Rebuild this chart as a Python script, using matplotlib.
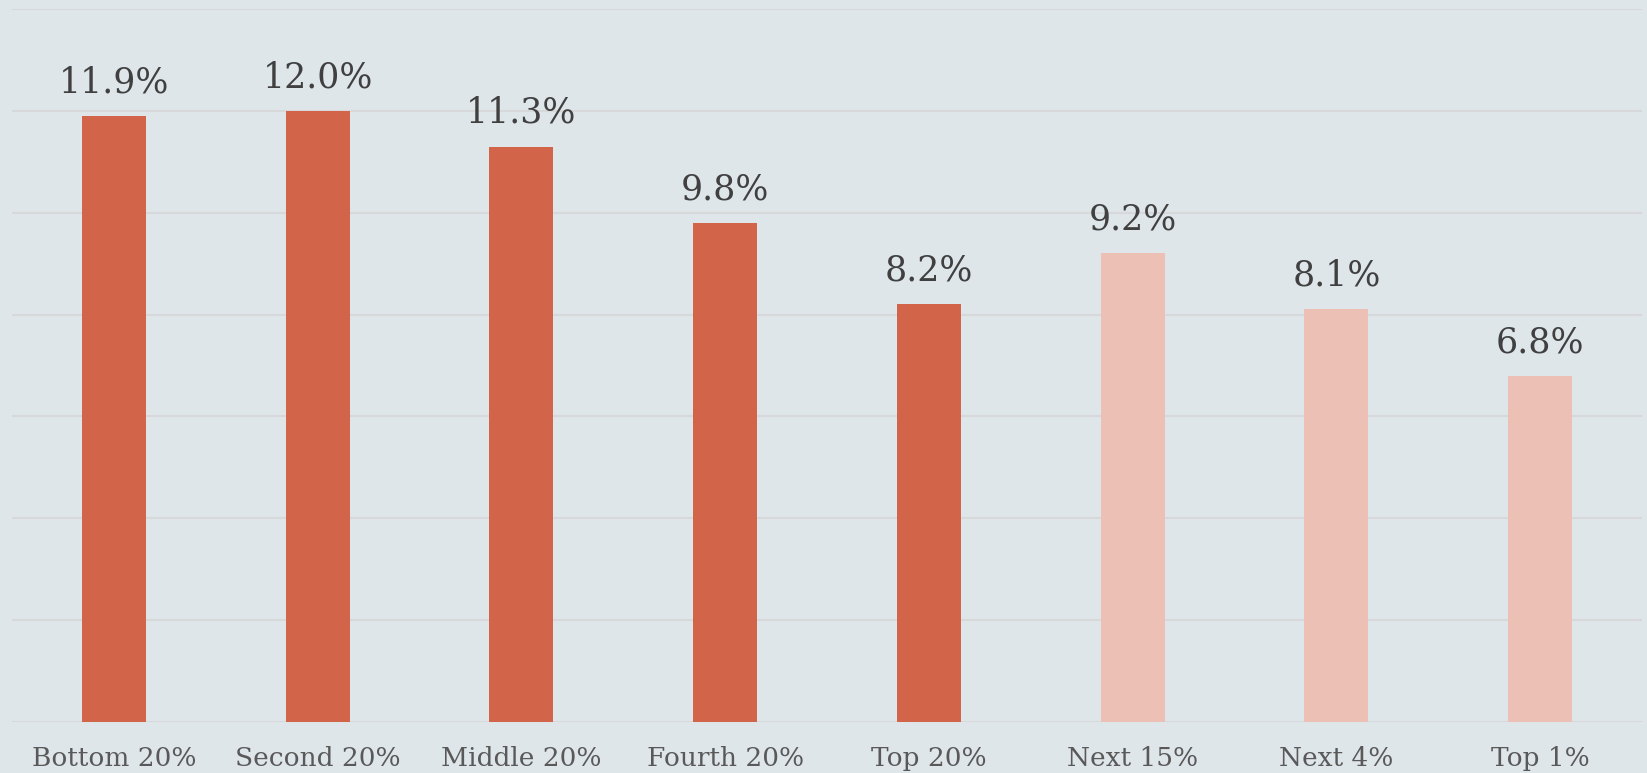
import matplotlib
matplotlib.use("Agg")
import matplotlib.pyplot as plt

categories = ["Bottom 20%", "Second 20%", "Middle 20%", "Fourth 20%", "Top 20%",
              "Next 15%", "Next 4%", "Top 1%"]
values = [11.9, 12.0, 11.3, 9.8, 8.2, 9.2, 8.1, 6.8]
labels = ["11.9%", "12.0%", "11.3%", "9.8%", "8.2%", "9.2%", "8.1%", "6.8%"]
colors = ["#D2644A"] * 5 + ["#EDC0B5"] * 3

bg = "#DFE6EA"
plt.rcParams['font.family'] = ['DejaVu Serif']

fig = plt.figure(figsize=(16.47, 7.73), dpi=100, facecolor=bg)
ax = fig.add_axes([12/1647, 1-722/773, (1642-12)/1647, (722-9)/773])
ax.set_facecolor(bg)

x = list(range(len(categories)))
ax.bar(x, values, width=0.314, color=colors, zorder=3)
ax.set_xlim(-0.5, len(categories) - 0.5)
ax.set_ylim(0, 14)
ax.set_yticks([0, 2, 4, 6, 8, 10, 12, 14])
ax.yaxis.grid(True, color="#D6D8DA", linewidth=1.6, zorder=0)
ax.tick_params(axis='y', left=False, labelleft=False)
ax.tick_params(axis='x', bottom=False, pad=14, labelsize=19, labelcolor="#595959")
ax.set_xticks(x)
ax.set_xticklabels(categories)
for s in ax.spines.values():
    s.set_visible(False)

for xi, v, lab in zip(x, values, labels):
    ax.annotate(lab, (xi, v), xytext=(0, 12), textcoords="offset points",
                ha="center", va="bottom", fontsize=25, color="#404040")

fig.savefig("out.png", dpi=100, facecolor=bg)
